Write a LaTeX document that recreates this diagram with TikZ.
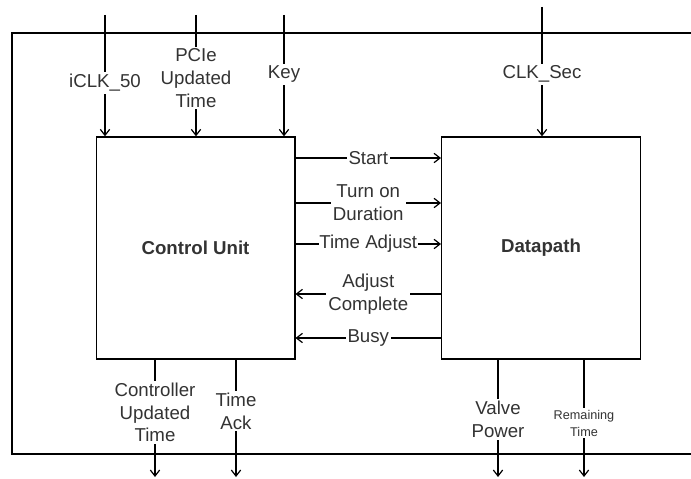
\documentclass[tikz,border=0pt]{standalone}
\usepackage{fontspec}
\setmainfont{Liberation Sans}
\usetikzlibrary{arrows.meta, positioning}

\begin{document}
\begin{tikzpicture}[
  x=0.75pt, y=-0.75pt,
  >={Straight Barb[length=4.5pt,width=7pt]}, line width=0.9pt,
  font=\fontsize{14}{17}\selectfont, text=black!80,
  unit/.style={rectangle, draw, line width=1pt, minimum width=149pt, minimum height=166.5pt, font=\fontsize{14}{17}\selectfont\bfseries},
  sig/.style={fill=white, inner sep=1.5pt, align=center},
  tiny/.style={fill=white, inner sep=1.5pt, align=center, font=\fontsize{9.5}{12.75}\selectfont}
]
  \useasboundingbox (0,0) rectangle (691,478);
  % outer frame
  \draw[line width=1pt] (12,33) rectangle (720,454);

  \node[unit] (cu) at (195.5,248) {Control Unit};
  \node[unit] (dp) at (541,248) {Datapath};

  % inputs
  \coordinate (clk) at (105,15);
  \coordinate (pcie) at (196,15);
  \coordinate (key) at (284,15);
  \coordinate (sec) at (542,7);
  \draw[->] (clk) -- (clk |- cu.north) node[sig, pos=0.56] {iCLK\_50};
  \draw[->] (pcie) -- (pcie |- cu.north) node[sig, pos=0.52] {PCIe\\Updated\\Time};
  \draw[->] (key) -- (key |- cu.north) node[sig, pos=0.49] {Key};
  \draw[->] (sec) -- (sec |- dp.north) node[sig, pos=0.52] {CLK\_Sec};

  % between the units
  \draw[->] (cu.east |- 0,158) -- (dp.west |- 0,158) node[sig, midway] {Start};
  \draw[->] (cu.east |- 0,203) -- (dp.west |- 0,203) node[sig, midway] {Turn on\\Duration};
  \draw[->] (cu.east |- 0,244) -- (dp.west |- 0,244) node[sig, midway, inner sep=0.5pt] {Time Adjust};
  \draw[->] (dp.west |- 0,294) -- (cu.east |- 0,294) node[sig, midway] {Adjust\\Complete};
  \draw[->] (dp.west |- 0,338) -- (cu.east |- 0,338) node[sig, midway] {Busy};

  % outputs
  \coordinate (cut) at (155,477);
  \coordinate (ack) at (236,477);
  \coordinate (valve) at (498,477);
  \coordinate (rem) at (584,477);
  \draw[->] (cu.south -| cut) -- (cut) node[sig, pos=0.45] {Controller\\Updated\\Time};
  \draw[->] (cu.south -| ack) -- (ack) node[sig, pos=0.44] {Time\\Ack};
  \draw[->] (dp.south -| valve) -- (valve) node[sig, pos=0.51] {Valve\\Power};
  \draw[->] (dp.south -| rem) -- (rem) node[tiny, pos=0.54] {Remaining\\Time};
\end{tikzpicture}
\end{document}
